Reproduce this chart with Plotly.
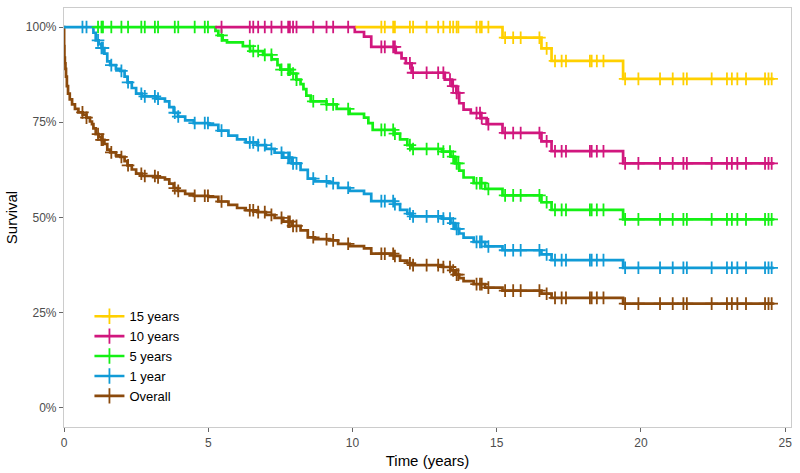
import numpy as np
import plotly.graph_objects as go

# ---------------- data ----------------
series_names = ["Overall", "1 year", "5 years", "10 years", "15 years"]
series_colors = ["#8B4A0C", "#119BD6", "#14F014", "#D1177E", "#FFD000"]

overall_t = [0, 0.005, 0.015, 0.03, 0.05, 0.07, 0.1, 0.14, 0.2, 0.28, 0.38, 0.5, 0.65, 0.78, 0.9, 0.97,
             1.02, 1.1, 1.2, 1.3, 1.4, 1.5, 1.6, 1.8, 1.95, 2.1, 2.2, 2.35, 2.5, 2.7, 3.2, 3.5, 3.65, 3.8,
             3.95, 4.2, 4.5, 5.0, 5.35, 5.7, 6.0, 6.3, 6.7, 7.0, 7.3, 7.6, 7.9, 8.2, 8.45, 8.7, 9.2, 9.5,
             9.9, 10.4, 10.65, 11.45, 11.65, 11.9, 12.05, 13.1, 13.4, 13.55, 13.7, 13.85, 14.2, 14.6,
             15.2, 16.55, 16.9, 19.38]
overall_s = [1.0, 0.95, 0.92, 0.905, 0.89, 0.87, 0.845, 0.825, 0.81, 0.797, 0.785, 0.776, 0.77, 0.762, 0.752, 0.745,
             0.734, 0.719, 0.711, 0.704, 0.693, 0.678, 0.671, 0.663, 0.659, 0.648, 0.637, 0.626, 0.615, 0.609,
             0.605, 0.600, 0.589, 0.577, 0.570, 0.562, 0.557, 0.554, 0.542, 0.533, 0.525, 0.519, 0.514, 0.507,
             0.499, 0.489, 0.478, 0.466, 0.448, 0.443, 0.440, 0.431, 0.425, 0.419, 0.405, 0.399, 0.387, 0.380,
             0.375, 0.370, 0.361, 0.350, 0.341, 0.333, 0.325, 0.316, 0.308, 0.300, 0.289, 0.274]

year1_t = [0, 1.02, 1.1, 1.2, 1.3, 1.4, 1.5, 1.6, 1.8, 1.95, 2.1, 2.2, 2.35, 2.5, 2.7, 3.2, 3.5, 3.65, 3.8,
           3.95, 4.2, 4.5, 5.0, 5.35, 5.7, 6.0, 6.3, 6.7, 7.0, 7.3, 7.6, 7.9, 8.2, 8.45, 8.7, 9.2, 9.5,
           9.9, 10.4, 10.65, 11.45, 11.65, 11.9, 12.05, 13.1, 13.4, 13.55, 13.7, 13.85, 14.2, 14.6,
           15.2, 16.55, 16.9, 19.38]
year1_s = [1.0, 0.985, 0.965, 0.955, 0.945, 0.93, 0.91, 0.90, 0.89, 0.885, 0.87, 0.855, 0.84, 0.825, 0.818,
           0.812, 0.805, 0.79, 0.775, 0.765, 0.755, 0.748, 0.743, 0.728, 0.715, 0.705, 0.697, 0.69, 0.68,
           0.67, 0.657, 0.642, 0.625, 0.602, 0.595, 0.59, 0.578, 0.57, 0.562, 0.543, 0.535, 0.52, 0.51,
           0.503, 0.497, 0.485, 0.47, 0.458, 0.447, 0.436, 0.424, 0.414, 0.403, 0.388, 0.368]

year5_t = [1.06, 5.25, 5.35, 5.5, 5.65, 6.2, 6.45, 6.9, 7.2, 7.4, 7.5, 7.85, 8.05, 8.2, 8.3, 8.4, 8.55,
           9.1, 9.45, 9.9, 10.4, 10.55, 10.7, 11.45, 11.65, 11.9, 12.05, 13.1, 13.4, 13.55, 13.7, 13.85,
           14.2, 14.6, 15.2, 16.55, 16.9, 19.38]
year5_s = [1.0, 0.99, 0.978, 0.965, 0.96, 0.95, 0.937, 0.927, 0.915, 0.90, 0.888, 0.878, 0.862, 0.85,
           0.837, 0.82, 0.805, 0.797, 0.785, 0.772, 0.762, 0.748, 0.73, 0.72, 0.705, 0.69, 0.68, 0.673,
           0.66, 0.642, 0.623, 0.605, 0.59, 0.575, 0.558, 0.54, 0.52, 0.495]

year10_t = [5.25, 10.08, 10.4, 10.65, 11.5, 11.7, 11.85, 12.05, 13.2, 13.45, 13.6, 13.7, 13.85, 14.1,
            14.45, 14.65, 15.2, 16.55, 16.9, 19.38]
year10_s = [1.0, 0.987, 0.975, 0.948, 0.932, 0.918, 0.905, 0.88, 0.862, 0.845, 0.827, 0.80, 0.783,
            0.774, 0.761, 0.745, 0.722, 0.70, 0.674, 0.642]

year15_t = [10.1, 15.2, 16.55, 16.9, 19.38]
year15_s = [1.0, 0.972, 0.944, 0.911, 0.864]

censor_times = [0.64, 0.78,
                1.18, 1.3, 1.35, 1.64, 1.99, 2.22, 2.68, 2.8, 3.15, 3.26, 3.84, 3.96, 4.53, 4.88, 4.99,
                5.46, 6.44, 6.56, 6.73, 6.96, 7.19, 7.54, 7.77, 7.83, 7.94, 8.06, 8.64, 9.1, 9.33, 9.85,
                11.0, 11.12, 11.41, 11.47, 11.99, 12.1, 12.57, 12.97, 13.15, 13.38, 13.49, 13.61, 13.67,
                14.3, 14.42, 14.48, 14.71,
                15.29, 15.57, 15.83, 16.48, 16.73, 17.02, 17.25, 17.4, 18.23, 18.29, 18.47, 18.7,
                19.45, 19.91, 20.66, 21.1, 21.47, 21.59, 22.45, 22.98, 23.15, 23.34, 23.64, 24.3, 24.42, 24.53]
end_time = 24.6

x_ticks = [0, 5, 10, 15, 20, 25]
y_ticks = [0, 0.25, 0.5, 0.75, 1.0]
y_tick_labels = ["0%", "25%", "50%", "75%", "100%"]

curves = [(overall_t, overall_s), (year1_t, year1_s), (year5_t, year5_s),
          (year10_t, year10_s), (year15_t, year15_s)]

# ---------------- figure ----------------
fig = go.Figure()
for name, color, (t, s) in zip(series_names, series_colors, curves):
    t = np.array(t, float)
    s = np.array(s, float)
    xs = list(t) + [end_time]
    ys = list(s) + [s[-1]]
    fig.add_trace(go.Scatter(x=xs, y=ys, mode="lines", line=dict(color=color, width=2.7, shape="hv"),
                             showlegend=False, hoverinfo="skip"))
    c = np.array([ct for ct in censor_times if ct >= t[0]])
    idx = np.searchsorted(t, c, side="right") - 1
    fig.add_trace(go.Scatter(x=c, y=s[idx], mode="markers",
                             marker=dict(symbol="cross-thin", size=9, line=dict(color=color, width=1.8)),
                             showlegend=False, hoverinfo="skip"))

for name, color in list(zip(series_names, series_colors))[::-1]:
    fig.add_trace(go.Scatter(x=[None], y=[None], mode="lines+markers", name=name,
                             line=dict(color=color, width=2.6),
                             marker=dict(symbol="cross-thin", size=11, line=dict(color=color, width=1.8))))

fig.update_layout(
    width=800, height=473,
    margin=dict(l=64, r=9, t=7, b=43),
    paper_bgcolor="white", plot_bgcolor="white",
    font=dict(family="Liberation Sans, Arial, sans-serif", color="#000000"),
    legend=dict(x=0.035, y=0.30, xanchor="left", yanchor="top", bgcolor="rgba(0,0,0,0)",
                font=dict(size=13, color="#000000"), tracegroupgap=0, itemwidth=30),
    showlegend=True,
)
fig.update_xaxes(range=[0, 25.2], tickvals=x_ticks, ticks="outside", ticklen=4, tickcolor="#666666",
                 showline=True, linecolor="#CCCCCC", linewidth=1.2, mirror=True, showgrid=False, zeroline=False,
                 tickfont=dict(size=12, color="#4D4D4D"),
                 title=dict(text="Time (years)", font=dict(size=15, color="#000000"), standoff=6))
fig.update_yaxes(range=[-0.05, 1.05], tickvals=y_ticks, ticktext=y_tick_labels, ticks="outside", ticklen=4,
                 tickcolor="#666666", showline=True, linecolor="#CCCCCC", linewidth=1.2, mirror=True,
                 showgrid=False, zeroline=False, tickfont=dict(size=12, color="#4D4D4D"),
                 title=dict(text="Survival", font=dict(size=15, color="#000000"), standoff=4))

fig.write_html("out.html")
